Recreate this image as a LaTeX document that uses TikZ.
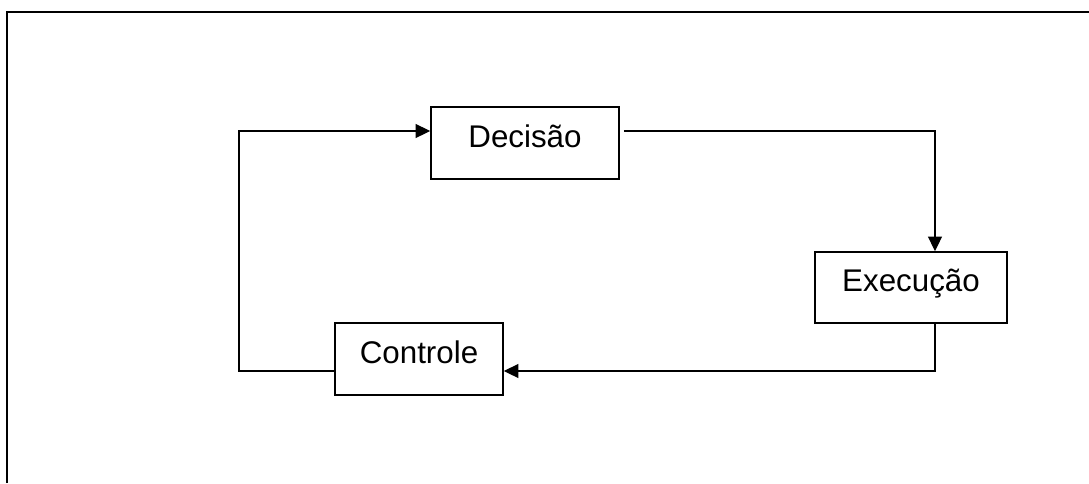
\documentclass[tikz,border=0pt]{standalone}
\usepackage{fontspec}
\setmainfont{Liberation Sans}
\usetikzlibrary{arrows.meta}
\begin{document}
\begin{tikzpicture}[x=0.75pt, y=-0.75pt,
  frame/.style={line width=1.6pt},
  stage/.style={draw, line width=1.2pt, inner sep=0pt,
    text height=20pt, text depth=14pt,
    font=\fontsize{23.5pt}{26pt}\selectfont},
  link/.style={line width=1pt, -{Triangle[length=11pt, width=10.5pt]}}]
  \useasboundingbox (0,0) rectangle (1089,483);
  % outer frame, open at the right and bottom edges
  \draw[frame] (7,483) |- (1089,12);
  % the three stages of the cycle
  \node[stage, minimum width=141pt, minimum height=54pt] (dec) at (525,143) {Decisão};
  \node[stage, minimum width=144pt, minimum height=53.25pt] (exe) at (911,287.5) {Execução};
  \node[stage, minimum width=126pt, minimum height=54pt] (ctl) at (419,359) {Controle};
  % corners of the loop
  \coordinate (ne) at (935,131);
  \coordinate (se) at (935,371);
  \coordinate (sw) at (239,371);
  \coordinate (nw) at (239,131);
  % connectors
  \draw[link] ([xshift=3pt]dec.east |- ne) -- (ne) -- (ne |- exe.north);
  \draw[link] (se |- exe.south) -- (se) -- (ctl.east |- se);
  \draw[link] (ctl.west |- sw) -- (sw) -- (nw) -- (dec.west |- nw);
\end{tikzpicture}
\end{document}
